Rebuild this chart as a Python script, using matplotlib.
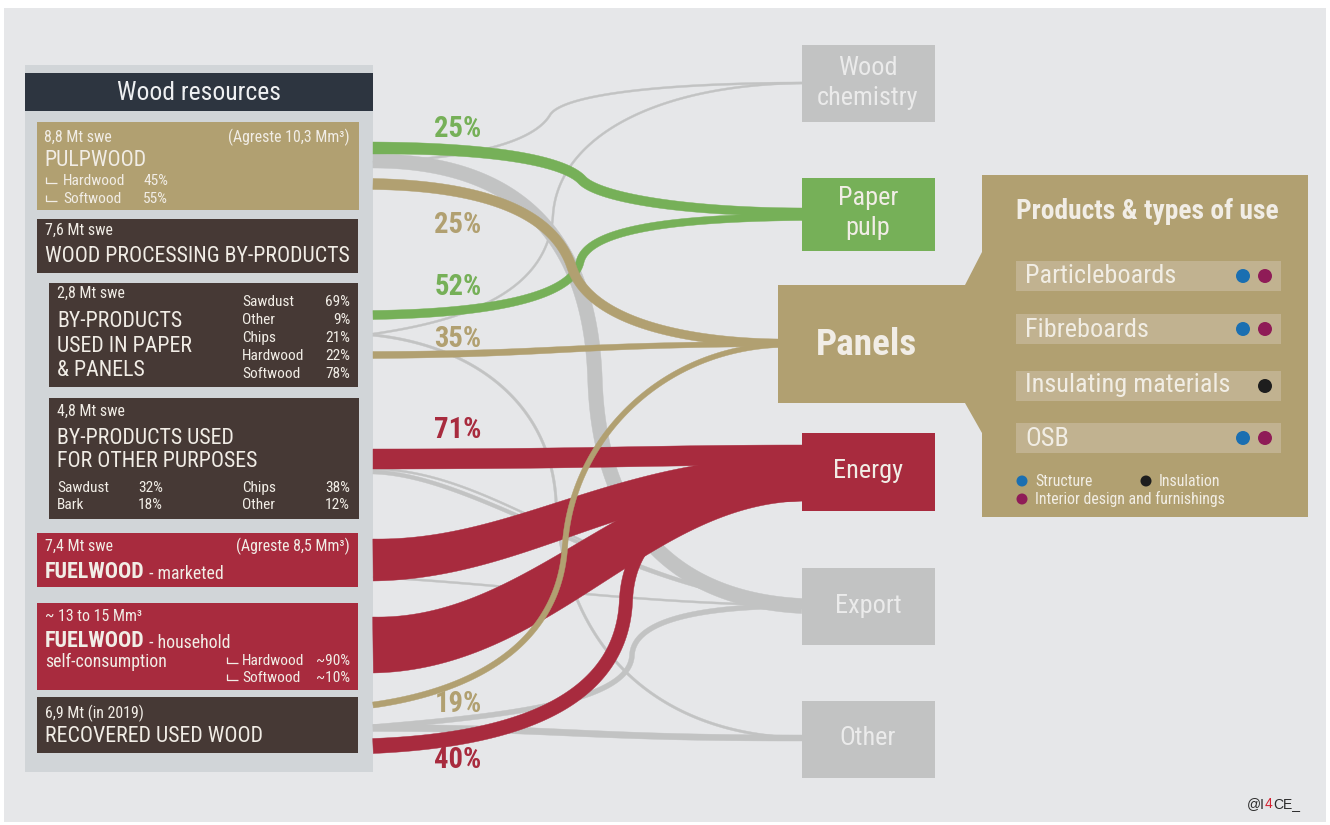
import numpy as np
import matplotlib.pyplot as plt
from matplotlib import font_manager
from matplotlib.patches import Rectangle, Polygon, Circle

# pick the narrowest sans family that is installed
_fonts = font_manager.fontManager.ttflist
_names = {f.name for f in _fonts}
if 'Liberation Sans Narrow' in _names:
    FAM, STRETCH = 'Liberation Sans Narrow', 'normal'
elif 'Roboto Condensed' in _names:
    FAM, STRETCH = 'Roboto Condensed', 'normal'
elif any(f.name == 'DejaVu Sans' and f.stretch == 'condensed' for f in _fonts):
    FAM, STRETCH = 'DejaVu Sans', 'condensed'
else:
    FAM, STRETCH = 'Roboto', 'normal'
plt.rcParams['font.family'] = [FAM, 'DejaVu Sans']
plt.rcParams['font.stretch'] = STRETCH

# ---------------- data ----------------
resource_amounts = ["8,8 Mt swe", "7,6 Mt swe", "2,8 Mt swe", "4,8 Mt swe",
                    "7,4 Mt swe", "~ 13 to 15 Mm³", "6,9 Mt (in 2019)"]
pulp_split = [("Hardwood", "45%"), ("Softwood", "55%")]
paper_panel_split = [("Sawdust", "69%"), ("Other", "9%"), ("Chips", "21%"),
                     ("Hardwood", "22%"), ("Softwood", "78%")]
other_use_split = [("Sawdust", "32%"), ("Bark", "18%"), ("Chips", "38%"), ("Other", "12%")]
household_split = [("Hardwood", "~90%"), ("Softwood", "~10%")]

destinations = ["Wood\nchemistry", "Paper\npulp", "Panels", "Energy", "Export", "Other"]
products = ["Particleboards", "Fibreboards", "Insulating materials", "OSB"]
product_uses = [["structure", "interior"], ["structure", "interior"], ["insulation"],
                ["structure", "interior"]]

pct_labels = ["25%", "25%", "52%", "35%", "71%", "19%", "40%"]
pct_kind = ["paper", "panels", "paper", "panels", "energy", "panels", "energy"]

# flows: kind, thickness at start / end (px)
flow_kind = ["grey", "grey", "grey", "grey", "grey", "grey", "grey", "grey", "grey",
             "paper", "paper", "panels", "panels",
             "energy", "energy", "energy", "energy", "panels"]
flow_w = [(14, 15), (2, 2), (2, 2), (2.5, 2.5), (4, 3), (2, 2), (2, 2), (5, 5), (7, 6),
          (12, 8), (9, 7), (11, 8), (7, 5),
          (20, 20), (42, 30), (56, 38), (15, 12), (6, 5)]

# ---------------- layout ----------------
flow_paths = [
    [(373, 161), (500, 161), (590, 220), (595, 380), (600, 530), (680, 600), (802, 606)],
    [(373, 162), (480, 158), (535, 140), (550, 115), (562, 95), (660, 83), (802, 83)],
    [(373, 334), (470, 320), (548, 290), (553, 215), (558, 140), (650, 85), (802, 83)],
    [(373, 335), (470, 345), (550, 400), (556, 500), (562, 640), (650, 735), (802, 738)],
    [(373, 472), (480, 475), (620, 590), (802, 606)],
    [(373, 469), (500, 470), (600, 585), (802, 605)],
    [(373, 577), (520, 585), (650, 605), (802, 605)],
    [(373, 727), (520, 715), (630, 700), (632, 655), (634, 620), (700, 606), (802, 606)],
    [(373, 728), (560, 728), (580, 738), (802, 738)],
    [(373, 148), (500, 148), (565, 162), (582, 180), (598, 197), (680, 212), (802, 212)],
    [(373, 315), (500, 313), (572, 295), (580, 262), (588, 228), (680, 218), (802, 217)],
    [(373, 184), (490, 186), (555, 215), (572, 268), (590, 320), (680, 342), (778, 343)],
    [(373, 355), (560, 354), (560, 345), (778, 344)],
    [(373, 459), (600, 459), (650, 455), (802, 455)],
    [(373, 560), (520, 560), (620, 472), (802, 472)],
    [(373, 645), (540, 645), (640, 482), (802, 482)],
    [(373, 746), (520, 740), (622, 700), (626, 600), (630, 520), (700, 497), (802, 495)],
    [(373, 705), (480, 690), (560, 640), (565, 545), (572, 440), (660, 350), (778, 345)],
]
pct_y = [137, 233, 295, 347, 438, 712, 768]

BG = '#e6e7e9'
PANEL = '#d1d5d8'
HEADER = '#2d3540'
TAN = '#b1a071'
BROWN = '#463935'
RED = '#a82b3e'
GREEN = '#76b058'
GREY = '#c2c3c3'
TXT = '#f1ede6'
BAR = '#c1b290'
dot_colors = {"structure": '#1b6fb1', "interior": '#8f1c57', "insulation": '#1e1e1e'}
kind_colors = {"grey": GREY, "paper": GREEN, "panels": TAN, "energy": RED}
flow_z = {"grey": 3, "paper": 4, "panels": 5, "energy": 6}

fig = plt.figure(figsize=(13.3, 8.25), dpi=100)
ax = fig.add_axes([0, 0, 1, 1])
ax.set_xlim(0, 1330)
ax.set_ylim(825, 0)
ax.axis('off')

# text groups: every text in a group gets the size that makes the anchor fit its width
groups = {}
anchors = {}


def rect(x0, y0, x1, y1, color, z=2):
    ax.add_patch(Rectangle((x0, y0), x1 - x0, y1 - y0, fc=color, ec='none', zorder=z))


def txt(x, y, s, grp, color=TXT, weight='normal', ha='left', width=None):
    t = ax.text(x, y, s, fontsize=12, color=color, fontweight=weight,
                ha=ha, va='baseline', zorder=10)
    groups.setdefault(grp, []).append(t)
    if width is not None:
        anchors[grp] = (t, width)
    return t


def after(t, s, grp, color=TXT, weight='normal', width=None):
    a = ax.annotate(s, xy=(1, 0), xycoords=t, fontsize=12, color=color,
                    fontweight=weight, ha='left', va='bottom', zorder=10)
    groups.setdefault(grp, []).append(a)
    if width is not None:
        anchors[grp] = (a, width)
    return a


def corner(x, y):
    # small "L" mark in front of a sub-item
    ax.plot([x + 1, x + 1, x + 12], [y - 8, y - 2, y - 2], color=TXT, lw=0.9,
            solid_capstyle='butt', zorder=10)


def bez(pts, n=80):
    pts = np.asarray(pts, float)
    out = []
    for i in range(0, len(pts) - 1, 3):
        p0, p1, p2, p3 = pts[i:i + 4]
        t = np.linspace(0, 1, n)[:, None]
        seg = (1 - t)**3 * p0 + 3 * (1 - t)**2 * t * p1 + 3 * (1 - t) * t**2 * p2 + t**3 * p3
        if out:
            seg = seg[1:]
        out.append(seg)
    return np.vstack(out)


def band(pts, w0, w1, color, z):
    c = bez(pts)
    d = np.gradient(c, axis=0)
    nrm = np.stack([-d[:, 1], d[:, 0]], 1)
    nrm /= np.linalg.norm(nrm, axis=1)[:, None]
    s = np.r_[0, np.cumsum(np.hypot(*np.diff(c, axis=0).T))]
    w = w0 + (w1 - w0) * s / s[-1]
    up = c + nrm * w[:, None] / 2
    lo = c - nrm * w[:, None] / 2
    ax.add_patch(Polygon(np.vstack([up, lo[::-1]]), closed=True, fc=color,
                         ec=color, lw=0.3, zorder=z))


# background
rect(4, 8, 1326, 822, BG, z=0)

# left panel
rect(25, 65, 373, 772, PANEL, z=1)
rect(25, 73, 373, 111, HEADER)
txt(199, 100, "Wood resources", 'header', color='#eef0f2', ha='center', width=163)

# resource boxes
rect(37, 122, 359, 210, TAN)
rect(37, 219, 358, 273, BROWN)
rect(49, 283, 358, 387, BROWN)
rect(49, 398, 359, 519, BROWN)
rect(37, 533, 358, 587, RED)
rect(37, 603, 358, 690, RED)
rect(37, 697, 358, 753, BROWN)

# pulpwood
txt(44, 142, resource_amounts[0], 'small')
txt(350, 142, "(Agreste 10,3 Mm³)", 'small', ha='right', width=121)
txt(44, 166, "PULPWOOD", 'title')
for i, (name, val) in enumerate(pulp_split):
    y = 185 + 18 * i
    corner(45, y)
    txt(63, y, name, 'list')
    txt(143, y, val, 'list')

# wood processing by-products
txt(45, 235, resource_amounts[1], 'small')
txt(45, 262, "WOOD PROCESSING BY-PRODUCTS", 'title', width=305)

# by-products paper & panels
txt(57, 298, resource_amounts[2], 'small')
for i, line in enumerate(["BY-PRODUCTS", "USED IN PAPER", "& PANELS"]):
    txt(57, 327 + 24.5 * i, line, 'title')
for i, (name, val) in enumerate(paper_panel_split):
    y = 306 + 18 * i
    txt(242, y, name, 'list', width=62 if name == "Hardwood" else None)
    txt(350, y, val, 'list', ha='right')

# by-products other purposes
txt(57, 416, resource_amounts[3], 'small')
txt(57, 444, "BY-PRODUCTS USED", 'title')
txt(57, 467, "FOR OTHER PURPOSES", 'title')
for i, (name, val) in enumerate(other_use_split):
    y = 492 + 17 * (i % 2)
    if i < 2:
        txt(57, y, name, 'list')
        txt(138, y, val, 'list')
    else:
        txt(242, y, name, 'list')
        txt(350, y, val, 'list', ha='right')

# fuelwood marketed
txt(45, 551, resource_amounts[4], 'small')
txt(350, 551, "(Agreste 8,5 Mm³)", 'small', ha='right')
t = txt(45, 578, "FUELWOOD", 'fuel', weight='bold', width=100)
after(t, " - marketed", 'sub')

# fuelwood household
txt(45, 621, resource_amounts[5], 'small')
t = txt(45, 647, "FUELWOOD", 'fuel', weight='bold')
after(t, " - household", 'sub')
txt(45, 667, "self-consumption", 'sub', width=122)
for i, (name, val) in enumerate(household_split):
    y = 665 + 17 * i
    corner(226, y)
    txt(242, y, name, 'list')
    txt(350, y, val, 'list', ha='right')

# recovered used wood
txt(45, 718, resource_amounts[6], 'small')
txt(45, 742, "RECOVERED USED WOOD", 'title')

# flows
for i, (pts, kind, (w0, w1)) in enumerate(zip(flow_paths, flow_kind, flow_w)):
    z = 7 if i == len(flow_paths) - 1 else flow_z[kind]
    band(pts, w0, w1, kind_colors[kind], z)

# percentage labels
for lab, kind, y in zip(pct_labels, pct_kind, pct_y):
    txt(458, y, lab, 'pct', color=kind_colors[kind], weight='bold', ha='center',
        width=47 if lab == "71%" else None)

# destination nodes
node_boxes = [(802, 45, 935, 122, GREY), (802, 178, 935, 251, GREEN), None,
              (802, 433, 935, 511, RED), (802, 568, 935, 645, GREY), (802, 701, 935, 778, GREY)]
node_text_y = [(75, 105), (205, 235), None, (478,), (613,), (745,)]
node_text_col = ['#ebebeb', TXT, None, TXT, '#ebebeb', '#ebebeb']
for name, box, ys, col in zip(destinations, node_boxes, node_text_y, node_text_col):
    if box is None:
        continue
    rect(*box[:4], box[4], z=8)
    for line, y in zip(name.split("\n"), ys):
        txt(868, y, line, 'node', color=col, ha='center',
            width=101 if line == "chemistry" else None)

# panels + products panel
ax.add_patch(Polygon([(778, 285), (965, 285), (982, 252), (982, 175), (1308, 175),
                      (1308, 517), (982, 517), (982, 433), (965, 403), (778, 403)],
                     closed=True, fc=TAN, ec='none', zorder=8))
txt(866, 355, destinations[2], 'panels', weight='bold', ha='center', width=101)
txt(1016, 219, "Products & types of use", 'ptitle', weight='bold', width=263)

row_top = [261, 314, 371, 423]
row_base = [283, 337, 392, 446]
for name, uses, y0, yb in zip(products, product_uses, row_top, row_base):
    rect(1016, y0, 1281, y0 + 30, BAR, z=9)
    txt(1025, yb, name, 'prod', color='#f1ede4',
        width=204 if name == "Insulating materials" else None)
    for j, u in enumerate(reversed(uses)):
        ax.add_patch(Circle((1265 - 22 * j, y0 + 15), 7, fc=dot_colors[u], ec='none', zorder=10))

legend_items = [("structure", "Structure", 1022, 481), ("insulation", "Insulation", 1146, 481),
                ("interior", "Interior design and furnishings", 1022, 499)]
for key, lab, x, y in legend_items:
    ax.add_patch(Circle((x, y), 5.5, fc=dot_colors[key], ec='none', zorder=10))
    txt(x + 13, y + 5, lab, 'legend', color='#f1ede4',
        width=191 if key == "interior" else None)

# credit
t = ax.text(1247, 808, "@I", fontsize=10, color='#2b2b2b', family='Liberation Sans', zorder=10)
t = ax.annotate("4", xy=(1, 0), xycoords=t, fontsize=10, color='#d4202f',
                family='Liberation Sans', va='bottom', zorder=10)
ax.annotate("CE_", xy=(1, 0), xycoords=t, fontsize=10, color='#2b2b2b',
            family='Liberation Sans', va='bottom', zorder=10)

# size every group from its anchor's measured width
renderer = fig.canvas.get_renderer()
for grp, (anchor, width) in anchors.items():
    size = 12 * width / anchor.get_window_extent(renderer).width
    for t in groups[grp]:
        t.set_fontsize(size)

fig.savefig("out.png", dpi=100, facecolor='white')
